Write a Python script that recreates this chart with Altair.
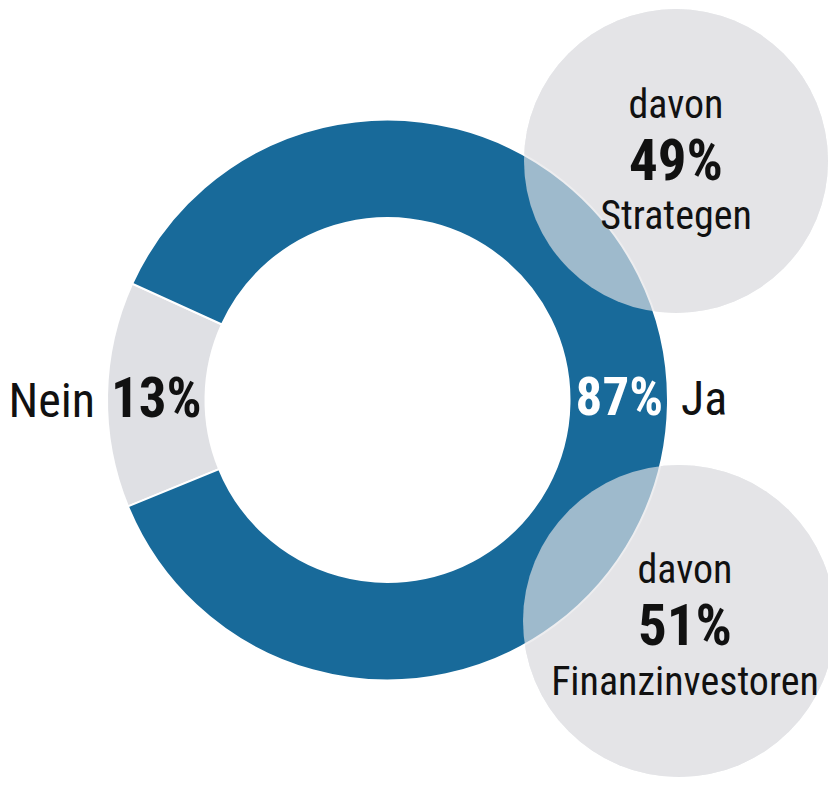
import math
import altair as alt
import pandas as pd

# ---- data ----
cats = ["Nein", "Ja"]
shares = [13, 87]
sub_labels = ["Strategen", "Finanzinvestoren"]
sub_shares = [49, 51]
sub_prefix = "davon"

BLUE = "#186a9a"
GRAY = "#dfe0e4"
CIRCLE = "#e3e4e7"
FONT = "Roboto Condensed, DejaVu Sans Condensed, sans-serif"

donut_df = pd.DataFrame({"cat": cats, "share": shares, "ord": list(range(len(cats)))})
one = pd.DataFrame({"k": [0]})

start = math.radians(247.7)

donut = alt.Chart(donut_df).mark_arc(
    radius=280.5, radius2=182, stroke="white", strokeWidth=2
).encode(
    theta=alt.Theta("share:Q", stack=True, scale=alt.Scale(range=[start, start + 2 * math.pi])),
    order=alt.Order("ord:Q"),
    color=alt.Color("cat:N", scale=alt.Scale(domain=cats, range=[GRAY, BLUE]), legend=None),
    x=alt.value(379.5),
    y=alt.value(392),
)


def bubble(cx, cy, r, opacity):
    return alt.Chart(one).mark_arc(
        theta=0, theta2=2 * math.pi, radius=r, color=CIRCLE, opacity=opacity
    ).encode(x=alt.value(cx), y=alt.value(cy))


def txt(s, x, y, size, bold=False, color="#111111", align="center"):
    return alt.Chart(one).mark_text(
        font=FONT, fontSize=size, fontWeight="bold" if bold else "normal",
        color=color, align=align, baseline="alphabetic"
    ).encode(x=alt.value(x), y=alt.value(y), text=alt.value(s))


b_top = (668, 153, 152)
b_bot = (671, 613, 156)

layers = [
    bubble(*b_top, 1.0),
    bubble(*b_bot, 1.0),
    donut,
    bubble(*b_top, 0.66),
    bubble(*b_bot, 0.66),
    txt(cats[0], 87, 409, 48, align="right"),
    txt(f"{shares[0]}%", 103, 409, 55, bold=True, align="left"),
    txt(f"{shares[1]}%", 655, 407, 53, bold=True, color="white", align="right"),
    txt(cats[1], 673, 407, 48, align="left"),
    txt(sub_prefix, 668, 110, 40),
    txt(f"{sub_shares[0]}%", 668, 172, 57, bold=True),
    txt(sub_labels[0], 668, 221, 40),
    txt(sub_prefix, 677, 575, 40),
    txt(f"{sub_shares[1]}%", 677, 637, 57, bold=True),
    txt(sub_labels[1], 677, 687, 40),
]

chart = alt.layer(*layers).properties(
    width=820, height=771, padding=0, autosize=alt.AutoSizeParams(type="none")
).configure_view(stroke=None)

chart.save("out.html", embed_options={"renderer": "svg", "actions": False})
